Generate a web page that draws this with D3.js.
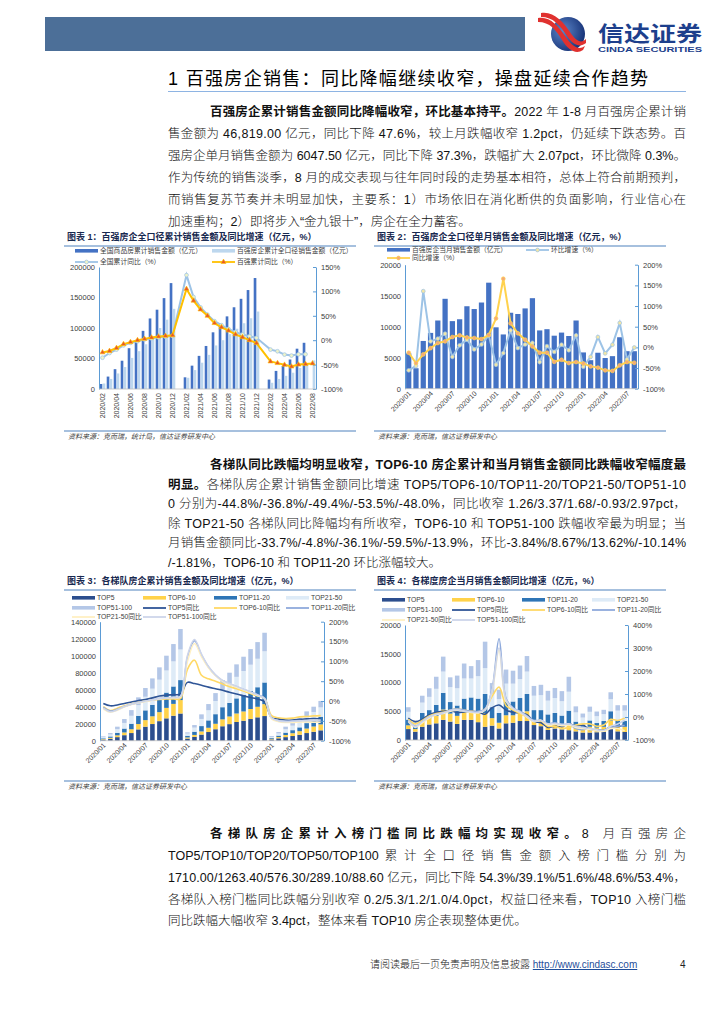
<!DOCTYPE html>
<html>
<head>
<meta charset="utf-8">
<script src="https://cdn.jsdelivr.net/npm/d3@7"></script>
<style>
  body { margin: 0; background: #fff; }
  text { font-family: "Liberation Sans", Arial, "Noto Sans CJK SC", sans-serif; }
</style>
</head>
<body>
<svg id="page" width="724" height="1024"></svg>
<script>
/* global d3 */

// ---- data ----
var months = ['2020/01', '2020/02', '2020/03', '2020/04', '2020/05', '2020/06', '2020/07', '2020/08', '2020/09', '2020/10', '2020/11', '2020/12',
  '2021/01', '2021/02', '2021/03', '2021/04', '2021/05', '2021/06', '2021/07', '2021/08', '2021/09', '2021/10', '2021/11', '2021/12',
  '2022/01', '2022/02', '2022/03', '2022/04', '2022/05', '2022/06', '2022/07', '2022/08']
// chart 1 starts at 2020/02 (jan+feb reported together)
var cats1 = months.slice(1)

// chart 1: cumulative sales, 亿元 / %
var nationalCum = [8203, 20365, 32500, 46347, 66895, 77500, 95313, 115647, 130000, 149000, 173613, null,
  19151, 38275, 54298, 70534, 92931, 104000, 119060, 134000, 147851, 162220, 181930, null,
  15459, 29655, 37702, 48337, 66072, 75763, null]
var top100Cum = [9000, 16500, 25500, 36000, 51000, 62000, 73300, 86300, 100000, 113700, 131400, null,
  18400, 31000, 43100, 56000, 71400, 80000, 89800, 98800, 107800, 116000, 127000, null,
  10200, 16500, 21600, 26700, 34500, 40000, 46819]
var nationalYoy = [-35.9, -26.3, -19.3, -10.6, -5.4, -2.1, 1.6, 3.7, 5.8, 7.2, 8.7, null,
  133.4, 88.5, 67.2, 52.2, 38.9, 30.7, 22.9, 16.6, 11.8, 8.0, 4.8, null,
  -19.3, -22.7, -29.5, -31.5, -28.9, -28.8, null]
var top100Yoy = [-25, -22, -16, -8, -4, 0, 2.7, 5.4, 7.5, 8.8, 10, null,
  105, 81, 63, 50, 35, 26.5, 19.6, 12, 6, 0, -6, null,
  -43.6, -47, -50.4, -54, -50, -49, -47.6]

// chart 2: monthly sales of top 100
var monthlySales = [5700, 3300, 7700, 9000, 11000, 14500, 10900, 11200, 13300, 12850, 13900, 17100,
  9900, 8750, 12250, 12050, 12950, 14600, 9400, 9600, 8550, 9050, 8500, 11000,
  5850, 4600, 5800, 4950, 5250, 8300, 6050, 6047.5]
var momRate = [-55.6, -45, 136, 14.5, 21, 33, -23, 5, 18.5, -5, 7, 29,
  -42, -13.7, 41, -1.6, 7, 11, -35.5, 3, -11, 6.5, -7, 29,
  -46.8, -23, 25, -14.5, 6.5, 59, -29, -0.3]
var yoyRate = [-13, -38, -17, -2, 10.5, 14.5, 25, 29, 24, 22.6, 20, 30,
  70, 166, 58, 34, 18.5, 2.4, -13, -13, -35, -30, -38, -35.5,
  -39, -46, -49, -55.6, -57, -43.5, -35.5, -37.3]

// chart 3: cumulative sales by tier
var top5Cum = [1300, 2300, 4200, 6500, 9000, 13300, 16500, 19600, 23000, 26300, 29400, 32000,
  2500, 4500, 7200, 10200, 13500, 17000, 19500, 22000, 23500, 25500, 27500, 29000,
  1500, 2800, 4200, 5500, 7000, 9000, 10500, 12200]
var top6Cum = [600, 1100, 2100, 3200, 4500, 6300, 7700, 9100, 10600, 12300, 13900, 15800,
  1300, 2300, 3700, 5000, 6400, 8100, 9000, 10000, 10900, 11800, 12400, 14000,
  800, 1500, 2500, 3300, 4200, 5300, 6200, 7000]
var top11Cum = [900, 1600, 3000, 4600, 6500, 9700, 11500, 13500, 15700, 18000, 20500, 23500,
  2000, 3800, 6300, 8700, 11300, 14300, 16000, 17800, 19600, 21300, 23000, 25500,
  900, 1700, 2800, 3600, 4500, 6400, 7700, 9000]
var top21Cum = [1400, 2300, 4300, 6600, 9300, 12600, 16000, 19000, 22500, 26000, 29500, 36000,
  2600, 4800, 8400, 11900, 15500, 19900, 22500, 25300, 28000, 30800, 33500, 36700,
  1300, 2500, 4000, 5300, 6600, 8300, 9400, 11000]
var top51Cum = [900, 1700, 2900, 4600, 6700, 9100, 10300, 12100, 14500, 17400, 20400, 24100,
  1400, 3000, 5400, 7300, 9300, 12100, 13000, 14700, 16800, 18400, 19600, 21800,
  1000, 1700, 3000, 3900, 4400, 5500, 6200, 7600]
var top5CumYoy = [-6, -12, -10, -6, -2.5, 1, 4, 8, 12.5, 15, 16, 17.6,
  47, 44, 40, 35, 31, 27, 22, 17.6, 13, 9, 5, -2,
  -42, -45, -48, -48, -46, -45, -44, -44.8]
var top6CumYoy = [-14, -24, -18, -12, -7.5, -3, 0, 2.5, 4, 5, 5, 6,
  80, 103, 65, 56, 50, 43, 36, 31, 25, 19, 12.6, 7,
  -37, -42, -44, -43, -40, -39, -37.5, -36.8]
var top11CumYoy = [-16, -25, -21, -14, -8, -4, 0, 3, 6, 7.5, 8, 11,
  110, 152, 116, 86, 65, 51, 43, 36, 29, 23, 16, 7,
  -43, -50, -51, -50, -49, -50, -50, -49.4]
var top21CumYoy = [-20, -28, -23, -15, -9, -5, -1, 2, 5, 7, 8, 10,
  100, 145, 112, 84, 64, 50, 42, 35, 28, 21, 14, 5,
  -45, -52, -54, -54, -53, -53, -53.5, -53.5]
var top51CumYoy = [-18, -27, -22, -14, -8, -4, 0, 3, 6, 8, 10, 12,
  115, 155, 118, 87, 66, 52, 44, 37, 30, 23, 15, 6,
  -42, -50, -52, -51, -50, -49, -48.5, -48]

// chart 4: monthly sales by tier
var top5Mon = [1900, 1450, 2300, 2700, 2900, 3500, 3200, 2800, 3500, 3500, 3100, 2300,
  2500, 2000, 2900, 3000, 3300, 3300, 2600, 2400, 1750, 2000, 1850, 1700,
  1500, 1300, 1300, 1350, 1400, 1900, 1500, 1400]
var top6Mon = [650, 450, 1000, 1100, 1300, 1800, 1400, 1400, 1500, 1700, 1600, 2400,
  1300, 1000, 1400, 1300, 1400, 1700, 900, 1000, 900, 900, 700, 1000,
  800, 700, 1000, 800, 900, 1500, 800, 900]
var top11Mon = [1000, 600, 1400, 1400, 1900, 2900, 2000, 1800, 2200, 2200, 2500, 3300,
  1900, 1700, 2400, 2400, 2600, 3000, 1700, 1800, 1800, 1800, 1700, 2400,
  900, 700, 1100, 800, 1000, 1600, 1100, 1000]
var top21Mon = [1350, 400, 1800, 2300, 2800, 3700, 2600, 3000, 3500, 3300, 3900, 4500,
  2300, 2400, 3100, 3100, 3300, 3900, 2500, 2600, 2400, 2600, 2500, 3300,
  1600, 1200, 1500, 1200, 1200, 2100, 1700, 1800]
var top51Mon = [800, 400, 1200, 1500, 2100, 2600, 1700, 2200, 2600, 2150, 2800, 4600,
  1900, 1650, 2450, 2250, 2350, 2700, 1700, 1800, 1700, 1750, 1750, 2600,
  1050, 700, 900, 800, 750, 1200, 950, 950]
var top5MonYoy = [-5, -20, -10, 10, 20, 25, 28, 20, 22, 25, 22, 12,
  40, 52, 30, 20, 18, 10, -20, -25, -45, -40, -42, -30,
  -40, -35, -55, -55, -58, -42, -42, -33.7]
var top6MonYoy = [-10, -30, -15, 5, 15, 20, 30, 35, 30, 25, 20, 35,
  90, 130, 50, 30, 15, 0, -20, -15, -40, -40, -50, -45,
  -35, -30, -30, -40, -35, -10, -15, -4.8]
var top11MonYoy = [-15, -40, -20, 0, 10, 15, 30, 35, 30, 25, 25, 35,
  120, 340, 80, 40, 25, 5, -15, -15, -30, -25, -35, -30,
  -50, -55, -50, -60, -60, -45, -40, -36.1]
var top21MonYoy = [-20, -45, -25, -5, 10, 15, 25, 30, 25, 20, 18, 30,
  110, 290, 70, 35, 20, 0, -20, -15, -35, -30, -38, -35,
  -45, -50, -55, -60, -62, -50, -50, -59.5]
var top51MonYoy = [-15, -42, -20, 0, 12, 18, 28, 32, 25, 22, 20, 32,
  115, 300, 75, 38, 22, 2, -18, -14, -30, -28, -32, -30,
  -40, -45, -50, -55, -58, -40, -30, -13.9]

var tierKeys = ['TOP5', 'TOP6-10', 'TOP11-20', 'TOP21-50', 'TOP51-100']
var tierColors = ['#2C4E8E', '#FFD24A', '#2E75B6', '#DEEBF7', '#B4C7E7']
var tierLineColors = ['#2F5597', '#FFD966', '#8FAADC', '#FFF0C2', '#CDD5EA']

var svg = d3.select('#page')
var BLUE = '#4F81BD'
var TXT = '#404040'
var RIGHT = 686

svg.append('rect').attr('width', 724).attr('height', 1024).attr('fill', '#fff')

drawHeader()
drawParagraphs()
chart1()
chart2()
chart3()
chart4()
drawFooter()

function drawHeader () {
  svg.append('rect')
    .attr('x', 45).attr('y', 17).attr('width', 480).attr('height', 34)
    .attr('fill', '#4C6F98')

  // logo
  var logo = svg.append('g').attr('transform', 'translate(568,34)')
  var grad = svg.append('defs').append('radialGradient')
    .attr('id', 'logoGrad').attr('cx', '35%').attr('cy', '40%').attr('r', '70%')
  grad.append('stop').attr('offset', '0%').attr('stop-color', '#5C86C8')
  grad.append('stop').attr('offset', '100%').attr('stop-color', '#142F74')
  logo.append('circle').attr('r', 17).attr('fill', 'url(#logoGrad)')
  logo.append('path')
    .attr('d', 'M-30,-16 C-18,-18 -10,-8 -3,2 C4,12 10,17 17,12 L15,16 C8,21 0,16 -6,6 C-12,-4 -18,-12 -30,-12 Z')
    .attr('fill', '#E0312F')
  logo.append('path')
    .attr('d', 'M-27,-21 C-14,-23 -5,-12 2,-2 C8,7 13,10 18,5 L18,9 C12,14 5,11 -1,2 C-8,-9 -15,-17 -27,-17 Z')
    .attr('fill', '#E0312F')

  svg.append('text')
    .attr('x', 598).attr('y', 41)
    .attr('font-size', 21).attr('font-weight', 'bold').attr('fill', '#1D3F8C')
    .attr('textLength', 104).attr('lengthAdjust', 'spacingAndGlyphs')
    .text('信达证券')
  svg.append('text')
    .attr('x', 598).attr('y', 52)
    .attr('font-size', 7.5).attr('font-weight', 'bold').attr('fill', '#1D3F8C')
    .attr('textLength', 104).attr('lengthAdjust', 'spacingAndGlyphs')
    .text('CINDA SECURITIES')

  // section title
  svg.append('text')
    .attr('x', 168).attr('y', 85)
    .attr('font-size', 18).attr('fill', '#000')
    .attr('textLength', 480).attr('lengthAdjust', 'spacing')
    .text('1 百强房企销售：同比降幅继续收窄，操盘延续合作趋势')
  svg.append('line')
    .attr('x1', 168).attr('x2', RIGHT).attr('y1', 91.5).attr('y2', 91.5)
    .attr('stroke', '#8EB4E3').attr('stroke-width', 1.2)
}

// one text line, justified to the right edge unless it is the last line
function textLine (x, y, parts, justify) {
  var t = svg.append('text')
    .attr('x', x).attr('y', y)
    .attr('font-size', 12.5).attr('fill', '#111')
  parts.forEach(function (p) {
    t.append('tspan')
      .attr('font-weight', p[1] ? 'bold' : 300)
      .text(p[0])
  })
  if (justify) t.attr('textLength', RIGHT - x).attr('lengthAdjust', 'spacing')
  return t
}

// latin head kept at its natural width, the rest spread to the edge
function textLineSplit (x, y, head, rest) {
  var h = textLine(x, y, [[head, 0]], false)
  var w = h.node().getComputedTextLength()
  textLine(x + w + 6, y, [[rest, 0]], true)
}

function drawParagraphs () {
  var L = 168
  var I = 210

  // paragraph 1
  textLine(I, 116, [['百强房企累计销售金额同比降幅收窄，环比基本持平。', 1], ['2022 年 1-8 月百强房企累计销', 0]], true)
  textLine(L, 138, [['售金额为 46,819.00 亿元，同比下降 47.6%，较上月跌幅收窄 1.2pct，仍延续下跌态势。百', 0]], true)
  textLine(L, 160, [['强房企单月销售金额为 6047.50 亿元，同比下降 37.3%，跌幅扩大 2.07pct，环比微降 0.3%。', 0]], true)
  textLine(L, 182, [['作为传统的销售淡季，8 月的成交表现与往年同时段的走势基本相符，总体上符合前期预判，', 0]], true)
  textLine(L, 204, [['而销售复苏节奏并未明显加快，主要系：1）市场依旧在消化断供的负面影响，行业信心在', 0]], true)
  textLine(L, 226, [['加速重构；2）即将步入“金九银十”，房企在全力蓄客。', 0]], false)

  // paragraph 2
  textLine(I, 469, [['各梯队同比跌幅均明显收窄，TOP6-10 房企累计和当月销售金额同比跌幅收窄幅度最', 1]], true)
  textLine(L, 489, [['明显。', 1], ['各梯队房企累计销售金额同比增速 TOP5/TOP6-10/TOP11-20/TOP21-50/TOP51-10', 0]], true)
  textLine(L, 508, [['0 分别为-44.8%/-36.8%/-49.4%/-53.5%/-48.0%，同比收窄 1.26/3.37/1.68/-0.93/2.97pct，', 0]], true)
  textLine(L, 528, [['除 TOP21-50 各梯队同比降幅均有所收窄，TOP6-10 和 TOP51-100 跌幅收窄最为明显；当', 0]], true)
  textLine(L, 547, [['月销售金额同比-33.7%/-4.8%/-36.1%/-59.5%/-13.9%，环比-3.84%/8.67%/13.62%/-10.14%', 0]], true)
  textLine(L, 567, [['/-1.81%，TOP6-10 和 TOP11-20 环比涨幅较大。', 0]], false)

  // paragraph 3
  textLine(I, 838, [['各梯队房企累计入榜门槛同比跌幅均实现收窄。', 1], ['8 月百强房企', 0]], true)
  textLineSplit(L, 860, 'TOP5/TOP10/TOP20/TOP50/TOP100', '累计全口径销售金额入榜门槛分别为')
  textLine(L, 882, [['1710.00/1263.40/576.30/289.10/88.60 亿元，同比下降 54.3%/39.1%/51.6%/48.6%/53.4%，', 0]], true)
  textLine(L, 904, [['各梯队入榜门槛同比跌幅分别收窄 0.2/5.3/1.2/1.0/4.0pct，权益口径来看，TOP10 入榜门槛', 0]], true)
  textLine(L, 925, [['同比跌幅大幅收窄 3.4pct，整体来看 TOP10 房企表现整体更优。', 0]], false)
}

function drawFooter () {
  var t = svg.append('text')
    .attr('x', 370).attr('y', 968)
    .attr('font-size', 10).attr('font-weight', 300).attr('fill', '#222')
  t.append('tspan').text('请阅读最后一页免责声明及信息披露 ')
  t.append('tspan').attr('fill', '#1F4E9A').attr('text-decoration', 'underline').text('http://www.cindasc.com')
  svg.append('text')
    .attr('x', 680).attr('y', 968)
    .attr('font-size', 10).attr('fill', '#222')
    .text('4')
}

// title with underline, source line with note
function drawFrame (x0, x1, titleY, title, srcY, src) {
  svg.append('text')
    .attr('x', x0 + 3).attr('y', titleY)
    .attr('font-size', 9).attr('font-weight', 'bold').attr('fill', '#17284F')
    .text(title)
  svg.append('line')
    .attr('x1', x0).attr('x2', x1).attr('y1', titleY + 6).attr('y2', titleY + 6)
    .attr('stroke', BLUE).attr('stroke-width', 1.2)
  svg.append('line')
    .attr('x1', x0).attr('x2', x1).attr('y1', srcY - 8).attr('y2', srcY - 8)
    .attr('stroke', BLUE).attr('stroke-width', 1)
  svg.append('text')
    .attr('x', x0 + 4).attr('y', srcY)
    .attr('font-size', 7).attr('font-style', 'italic').attr('fill', TXT)
    .text(src)
}

// left + right value axes and the baseline
function drawAxes (g, yL, yR, leftTicks, rightTicks, xLeft, xRight, leftFmt) {
  var left = g.append('g')
    .attr('transform', 'translate(' + xLeft + ',0)')
    .call(d3.axisLeft(yL).tickValues(leftTicks).tickSize(0).tickPadding(4).tickFormat(leftFmt))
  var right = g.append('g')
    .attr('transform', 'translate(' + xRight + ',0)')
    .call(d3.axisRight(yR).tickValues(rightTicks).tickSizeInner(-3).tickSizeOuter(0).tickPadding(5)
      .tickFormat(function (d) { return d + '%' }))
  ;[left, right].forEach(function (a) {
    a.select('.domain').attr('stroke', '#5B9BD5')
    a.selectAll('.tick line').attr('stroke', '#5B9BD5')
    a.selectAll('text').attr('font-size', 7.5).attr('fill', TXT)
      .attr('font-family', '"Liberation Sans", Arial, sans-serif')
  })
  g.append('line')
    .attr('x1', xLeft).attr('x2', xRight)
    .attr('y1', yL(0)).attr('y2', yL(0))
    .attr('stroke', '#BFBFBF').attr('stroke-width', 0.8)
}

// category labels under the plot
function drawXLabels (g, x, labels, y0, angle) {
  g.selectAll('.xl')
      .data(labels)
    .enter().append('text')
      .attr('class', 'xl')
      .attr('transform', function (d) {
        return 'translate(' + (x(d) + x.bandwidth() / 2 + (angle === -90 ? 2.5 : 3)) + ',' + y0 + ') rotate(' + angle + ')'
      })
      .attr('text-anchor', 'end')
      .attr('font-size', 7).attr('fill', TXT)
      .text(function (d) { return d })
}

function legendRect (x, y, color, label, w) {
  svg.append('rect').attr('x', x).attr('y', y - 2).attr('width', w || 23).attr('height', 3.6).attr('fill', color)
  svg.append('text').attr('x', x + (w || 23) + 2).attr('y', y + 2.3)
    .attr('font-size', 6.8).attr('fill', TXT).text(label)
}

function legendLine (x, y, color, label, marker, w) {
  svg.append('line').attr('x1', x).attr('x2', x + (w || 23)).attr('y1', y).attr('y2', y)
    .attr('stroke', color).attr('stroke-width', 1.8)
  if (marker) marker(x + (w || 23) / 2, y)
  svg.append('text').attr('x', x + (w || 23) + 2).attr('y', y + 2.3)
    .attr('font-size', 6.8).attr('fill', TXT).text(label)
}

function circleMarker (fill, stroke) {
  return function (cx, cy, g) {
    (g || svg).append('circle').attr('cx', cx).attr('cy', cy).attr('r', 1.9)
      .attr('fill', fill).attr('stroke', stroke).attr('stroke-width', 0.7)
  }
}

function triMarker (cx, cy, g) {
  (g || svg).append('path')
    .attr('d', d3.symbol(d3.symbolTriangle, 11)())
    .attr('transform', 'translate(' + cx + ',' + cy + ')')
    .attr('fill', '#E8562A').attr('stroke', '#FFC000').attr('stroke-width', 0.6)
}

function chart1 () {
  drawFrame(64, 356, 240, '图表 1：百强房企全口径累计销售金额及同比增速（亿元，%）', 439, '资料来源：克而瑞，统计局，信达证券研发中心')

  var g = svg.append('g')
  var x = d3.scaleBand().domain(cats1).range([99, 316]).paddingInner(0.2).paddingOuter(0.1)
  var xs = d3.scaleBand().domain(['n', 't']).range([0, x.bandwidth()]).paddingInner(0.1)
  var yL = d3.scaleLinear().domain([0, 200000]).range([389, 267])
  var yR = d3.scaleLinear().domain([-100, 150]).range([389, 267])

  var rows = cats1.map(function (c, i) {
    return {c: c, n: nationalCum[i], t: top100Cum[i], ny: nationalYoy[i], ty: top100Yoy[i]}
  })

  // add bars
  g.selectAll('.bn')
      .data(rows.filter(function (d) { return d.n != null }))
    .enter().append('rect')
      .attr('fill', '#4472C4')
      .attr('x', function (d) { return x(d.c) + xs('n') })
      .attr('width', xs.bandwidth())
      .attr('y', function (d) { return yL(d.n) })
      .attr('height', function (d) { return yL(0) - yL(d.n) })
  g.selectAll('.bt')
      .data(rows.filter(function (d) { return d.t != null }))
    .enter().append('rect')
      .attr('fill', '#BDD7EE')
      .attr('x', function (d) { return x(d.c) + xs('t') })
      .attr('width', xs.bandwidth())
      .attr('y', function (d) { return yL(d.t) })
      .attr('height', function (d) { return yL(0) - yL(d.t) })

  drawAxes(g, yL, yR, [0, 50000, 100000, 150000, 200000], [-100, -50, 0, 50, 100, 150], 99, 316, d3.format('d'))

  // lines, connected across the january gaps
  var cx = function (d) { return x(d.c) + x.bandwidth() / 2 }
  var ny = rows.filter(function (d) { return d.ny != null })
  var ty = rows.filter(function (d) { return d.ty != null })
  g.append('path')
    .attr('d', d3.line().x(cx).y(function (d) { return yR(d.ny) })(ny))
    .attr('fill', 'none').attr('stroke', '#9DC3E6').attr('stroke-width', 2)
  var cm = circleMarker('#EEF3C8', '#9DC3E6')
  ny.forEach(function (d) { cm(cx(d), yR(d.ny), g) })
  g.append('path')
    .attr('d', d3.line().x(cx).y(function (d) { return yR(d.ty) })(ty))
    .attr('fill', 'none').attr('stroke', '#FFC000').attr('stroke-width', 2)
  ty.forEach(function (d) { triMarker(cx(d), yR(d.ty), g) })

  drawXLabels(g, x, cats1.filter(function (d, i) { return i % 2 === 0 }), 393, -90)

  // legend
  legendRect(75, 251, '#4472C4', '全国商品房累计销售金额（亿元）')
  legendRect(212, 251, '#BDD7EE', '百强房企累计全口径销售金额（亿元）')
  legendLine(75, 262, '#9DC3E6', '全国累计同比（%）', circleMarker('#EEF3C8', '#9DC3E6'))
  legendLine(212, 262, '#FFC000', '百强累计同比（%）', function (a, b) { triMarker(a, b) })
}

function chart2 () {
  drawFrame(374, 666, 240, '图表 2：百强房企全口径单月销售金额及同比增速（亿元，%）', 439, '资料来源：克而瑞，信达证券研发中心')

  var g = svg.append('g')
  var x = d3.scaleBand().domain(months).range([405, 638]).paddingInner(0.28).paddingOuter(0.15)
  var yL = d3.scaleLinear().domain([0, 20000]).range([388.7, 264.7])
  var yR = d3.scaleLinear().domain([-100, 200]).range([388.7, 264.7])
  var rows = months.map(function (m, i) {
    return {m: m, v: monthlySales[i], mom: momRate[i], yoy: yoyRate[i]}
  })

  // add bars
  g.selectAll('.bar')
      .data(rows)
    .enter().append('rect')
      .attr('fill', '#4472C4')
      .attr('x', function (d) { return x(d.m) })
      .attr('width', x.bandwidth())
      .attr('y', function (d) { return yL(d.v) })
      .attr('height', function (d) { return yL(0) - yL(d.v) })

  drawAxes(g, yL, yR, [0, 5000, 10000, 15000, 20000], [-100, -50, 0, 50, 100, 150, 200], 405, 638, d3.format('d'))

  var cx = function (d) { return x(d.m) + x.bandwidth() / 2 }
  g.append('path')
    .attr('d', d3.line().x(cx).y(function (d) { return yR(d.mom) })(rows))
    .attr('fill', 'none').attr('stroke', '#9DC3E6').attr('stroke-width', 2)
  var m1 = circleMarker('#F2E6A6', '#9DC3E6')
  rows.forEach(function (d) { m1(cx(d), yR(d.mom), g) })
  g.append('path')
    .attr('d', d3.line().x(cx).y(function (d) { return yR(d.yoy) })(rows))
    .attr('fill', 'none').attr('stroke', '#FFD24D').attr('stroke-width', 2)
  var m2 = circleMarker('#F5A878', '#FFD24D')
  rows.forEach(function (d) { m2(cx(d), yR(d.yoy), g) })

  drawXLabels(g, x, months.filter(function (d, i) { return i % 3 === 0 }), 394, -45)

  // legend
  legendRect(387, 250, '#4472C4', '百强房企当月销售金额（亿元）')
  legendLine(526, 250, '#9DC3E6', '环比增速（%）', circleMarker('#F2E6A6', '#9DC3E6'))
  legendLine(387, 258, '#FFD24D', '同比增速（%）', circleMarker('#F5A878', '#FFD24D'))
}

// stacked bars + smooth yoy lines, shared by charts 3 and 4
function tierChart (opt) {
  var g = svg.append('g')
  var x = d3.scaleBand().domain(months).range([opt.x0, opt.x1]).paddingInner(0.35).paddingOuter(0.15)
  var yL = d3.scaleLinear().domain(opt.leftDomain).range([opt.y0, opt.y1])
  var yR = d3.scaleLinear().domain(opt.rightDomain).range([opt.y0, opt.y1])

  var rows = months.map(function (m, i) {
    var r = {m: m}
    tierKeys.forEach(function (k, j) { r[k] = opt.bars[j][i] })
    return r
  })
  var stacked = d3.stack().keys(tierKeys)(rows)

  // add stacked bars
  g.selectAll('.layer')
      .data(stacked)
    .enter().append('g')
      .attr('fill', function (d, i) { return tierColors[i] })
    .selectAll('rect')
      .data(function (d) { return d })
    .enter().append('rect')
      .attr('x', function (d) { return x(d.data.m) })
      .attr('width', x.bandwidth())
      .attr('y', function (d) { return yL(d[1]) })
      .attr('height', function (d) { return yL(d[0]) - yL(d[1]) })

  drawAxes(g, yL, yR, opt.leftTicks, opt.rightTicks, opt.x0, opt.x1, d3.format('d'))

  // add yoy lines
  var line = d3.line()
    .curve(d3.curveCatmullRom.alpha(0.5))
    .x(function (d, i) { return x(months[i]) + x.bandwidth() / 2 })
    .y(function (d) { return yR(d) })
  opt.lines.forEach(function (vals, j) {
    g.append('path')
      .attr('d', line(vals))
      .attr('fill', 'none').attr('stroke', tierLineColors[j]).attr('stroke-width', 1.6)
  })

  drawXLabels(g, x, months.filter(function (d, i) { return i % 3 === 0 }), opt.y0 + 5, -45)

  // legend: 4 columns, bars then lines
  var items = tierKeys.map(function (k, i) { return {t: 'bar', label: k, c: tierColors[i]} })
    .concat(tierKeys.map(function (k, i) { return {t: 'line', label: k + '同比', c: tierLineColors[i]} }))
  items.forEach(function (it, i) {
    var lx = opt.legendX[i % 4]
    var ly = opt.legendY[Math.floor(i / 4)]
    if (it.t === 'bar') legendRect(lx, ly, it.c, it.label)
    else legendLine(lx, ly, it.c, it.label)
  })
}

function chart3 () {
  drawFrame(64, 356, 584, '图表 3：各梯队房企累计销售金额及同比增速（亿元，%）', 789, '资料来源：克而瑞，信达证券研发中心')
  tierChart({
    x0: 100, x1: 324, y0: 740.7, y1: 621.7,
    leftDomain: [0, 140000], rightDomain: [-100, 200],
    leftTicks: [0, 20000, 40000, 60000, 80000, 100000, 120000, 140000],
    rightTicks: [-100, -50, 0, 50, 100, 150, 200],
    bars: [top5Cum, top6Cum, top11Cum, top21Cum, top51Cum],
    lines: [top5CumYoy, top6CumYoy, top11CumYoy, top21CumYoy, top51CumYoy],
    legendX: [72, 143, 214, 286], legendY: [598, 608, 617]
  })
}

function chart4 () {
  drawFrame(374, 666, 584, '图表 4：各梯度房企当月销售金额同比增速（亿元，%）', 789, '资料来源：克而瑞，信达证券研发中心')
  tierChart({
    x0: 405, x1: 628, y0: 740, y1: 625,
    leftDomain: [0, 20000], rightDomain: [-100, 400],
    leftTicks: [0, 5000, 10000, 15000, 20000],
    rightTicks: [-100, 0, 100, 200, 300, 400],
    bars: [top5Mon, top6Mon, top11Mon, top21Mon, top51Mon],
    lines: [top5MonYoy, top6MonYoy, top11MonYoy, top21MonYoy, top51MonYoy],
    legendX: [382, 452, 522, 592], legendY: [600, 610, 620]
  })
}
</script>
</body>
</html>
